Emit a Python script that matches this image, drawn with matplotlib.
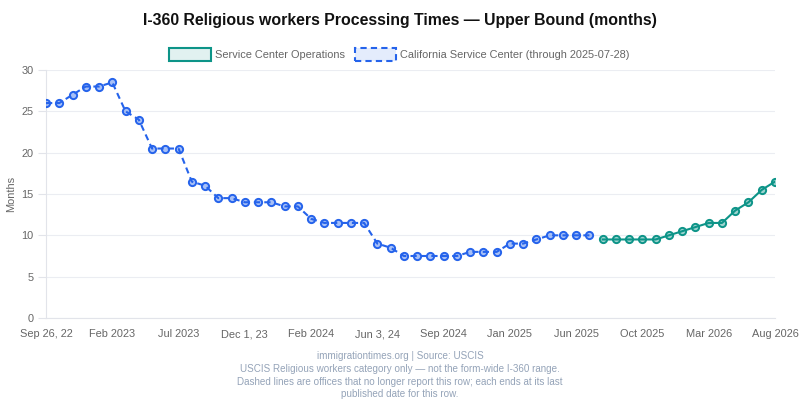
import matplotlib
matplotlib.use("Agg")
import matplotlib.pyplot as plt
from matplotlib.patches import Rectangle

plt.rcParams['font.family'] = ['Liberation Sans', 'DejaVu Sans']

tick_labels = ["Sep 26, 22", "Feb 2023", "Jul 2023", "Dec 1, 23", "Feb 2024", "Jun 3, 24",
               "Sep 2024", "Jan 2025", "Jun 2025", "Oct 2025", "Mar 2026", "Aug 2026"]

california = [26, 26, 27, 28, 28, 28.5, 25, 24, 20.5, 20.5, 20.5, 16.5, 16, 14.5, 14.5,
              14, 14, 14, 13.5, 13.5, 12, 11.5, 11.5, 11.5, 11.5, 9, 8.5, 7.5, 7.5, 7.5,
              7.5, 7.5, 8, 8, 8, 9, 9, 9.5, 10, 10, 10, 10]
operations = [9.5, 9.5, 9.5, 9.5, 9.5, 10, 10.5, 11, 11.5, 11.5, 13, 14, 15.5, 16.5]

n_total = len(california) + len(operations)
x_cal = list(range(len(california)))
x_ops = list(range(len(california), n_total))

BLUE = "#2563eb"
TEAL = "#0d9488"
FS = 7.9

fig = plt.figure(figsize=(8, 4), dpi=100)
W, H = 800, 400
ax = fig.add_axes([46 / W, 1 - 318 / H, (775 - 46) / W, (318 - 70) / H])

ax.plot(x_cal, california, color=BLUE, lw=1.5, ls=(0, (3, 2)), marker='o', ms=5.2,
        mfc=(37/255, 99/255, 235/255, 0.4), mec=BLUE, mew=1.4, zorder=3)
ax.plot(x_ops, operations, color=TEAL, lw=1.5, ls='-', marker='o', ms=5.2,
        mfc=(13/255, 148/255, 136/255, 0.4), mec=TEAL, mew=1.4, zorder=3)

ax.set_xlim(0, n_total - 1)
ax.set_ylim(0, 30)
ax.set_yticks(range(0, 31, 5))
ax.set_xticks(range(0, n_total, 5))
ax.set_xticklabels(tick_labels)
ax.grid(axis='y', color='#ebedf2', lw=0.8)
ax.set_axisbelow(True)
for s in ['top', 'right']:
    ax.spines[s].set_visible(False)
ax.spines['left'].set_color('#e2e4ea')
ax.spines['bottom'].set_color('#e2e4ea')
ax.tick_params(axis='y', colors='#e2e4ea', labelcolor='#666666', labelsize=FS, length=5.8, pad=3)
ax.tick_params(axis='x', length=0, labelcolor='#666666', labelsize=FS, pad=8)
ax.set_ylabel("Months", color='#666666', fontsize=FS)
ax.yaxis.set_label_coords((16 - 46) / 729, 0.5)

fig.text(0.5, 1 - 20 / H, "I-360 Religious workers Processing Times — Upper Bound (months)",
         ha='center', va='center', fontsize=11.4, fontweight='bold', color='#111111')

# legend
def px(x, y):
    return (x / W, 1 - y / H)

fig.add_artist(Rectangle(px(169, 60.5), 41.5 / W, 12 / H, transform=fig.transFigure,
                         facecolor=(13/255, 148/255, 136/255, 0.12), edgecolor=TEAL, lw=1.5))
fig.text(*px(215.5, 54.5), "Service Center Operations", ha='left', va='center',
         fontsize=FS, color='#666666')
fig.add_artist(Rectangle(px(354.5, 60.5), 41.5 / W, 12 / H, transform=fig.transFigure,
                         facecolor=(37/255, 99/255, 235/255, 0.12), edgecolor=BLUE, lw=1.5,
                         ls=(0, (3, 2))))
fig.text(*px(400.5, 54.5), "California Service Center (through 2025-07-28)", ha='left',
         va='center', fontsize=FS, color='#666666')

footer = ("immigrationtimes.org | Source: USCIS\n"
          "USCIS Religious workers category only — not the form-wide I-360 range.\n"
          "Dashed lines are offices that no longer report this row; each ends at its last\n"
          "published date for this row.")
fig.text(0.5, 1 - 351 / H, footer, ha='center', va='top', fontsize=7.15, color='#94a3b8',
         linespacing=1.35)

fig.savefig("out.png", dpi=100, facecolor='white')
